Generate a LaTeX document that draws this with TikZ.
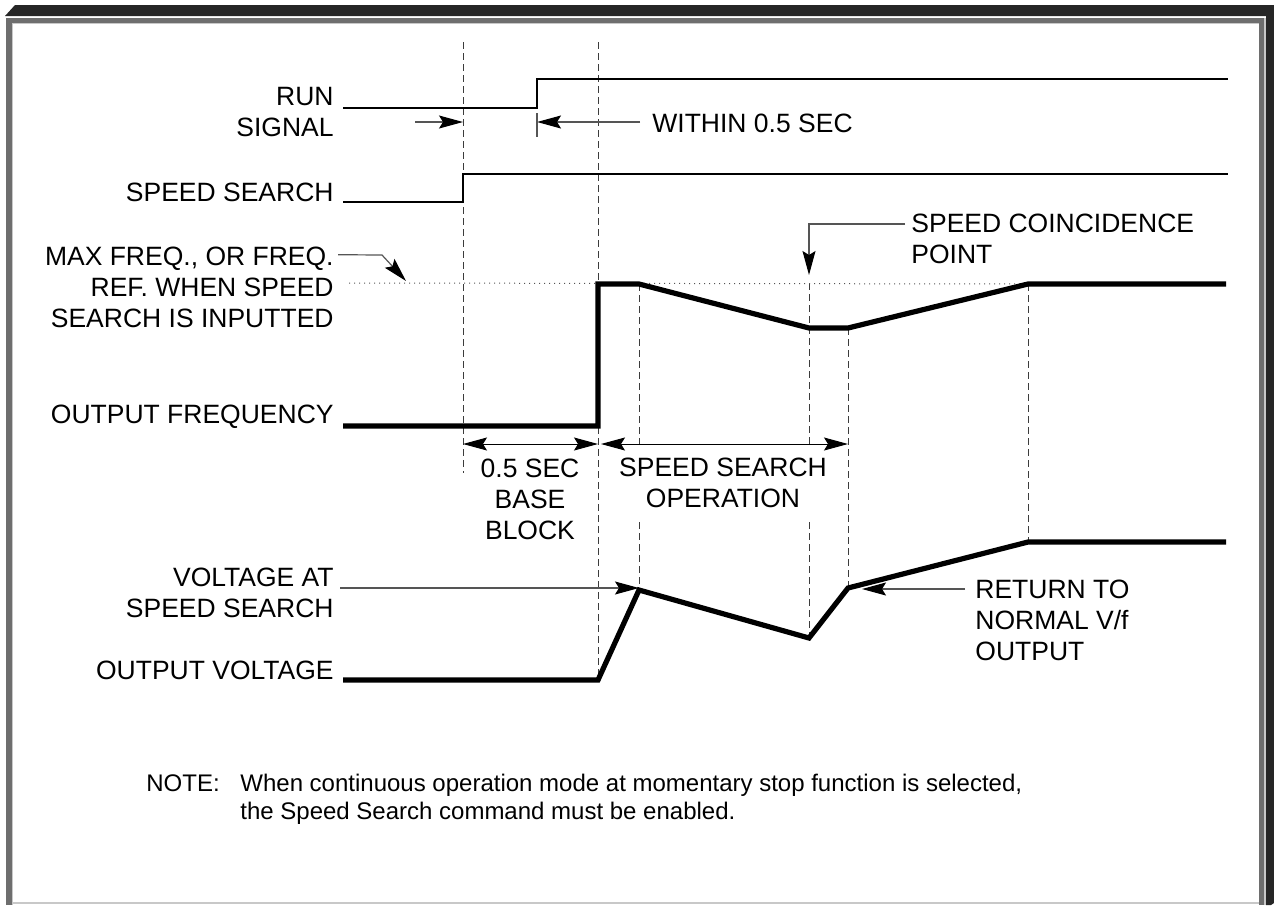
\documentclass[tikz,border=0pt]{standalone}
\usepackage{fontspec}
\setmainfont{Liberation Sans}
\usetikzlibrary{arrows.meta,positioning,calc}
\definecolor{framedark}{RGB}{38,38,38}
\definecolor{framegray}{RGB}{110,110,110}
\definecolor{framelight}{RGB}{200,200,200}
\definecolor{guidec}{RGB}{60,60,60}
\definecolor{leadc}{RGB}{85,85,85}

\begin{document}
\begin{tikzpicture}[
  x=0.5pt, y=-0.5pt,
  font=\fontsize{13.25}{15.5}\selectfont,
  >={Stealth[length=12pt,width=6.5pt,inset=2pt,color=black]},
  lbl/.style={align=right, anchor=east, inner sep=0pt},
  txt/.style={align=center, inner sep=0pt},
  ltxt/.style={align=left, anchor=west, inner sep=0pt},
  sig/.style={line width=1.4pt, line join=miter},
  wave/.style={line width=2.6pt, line join=miter},
  guide/.style={draw=guidec, line width=0.5pt, dash pattern=on 3.5pt off 2pt},
  lead/.style={->, draw=leadc, line width=0.6pt},
  tick/.style={draw=leadc, line width=0.6pt},
  dim/.style={<->, line width=0.5pt}
]
\useasboundingbox (0,0) rectangle (1274,905);

% ---- Frame ----
\fill[framedark] (15,5) -- (1274,5) -- (1274,903) -- (1271,905) -- (1266,905)
  -- (1266,16) -- (5,16) -- cycle;
\fill[framegray] (6,18) rectangle (1264,23);
\fill[framegray] (6,18) rectangle (12,905);
\fill[framegray] (1259,18) rectangle (1264,905);
\draw[framelight, line width=0.6pt] (12.5,905) -- (12.5,23.5) -- (1259,23.5);
\draw[framelight, line width=0.6pt] (1265,18) -- (1265,905);
\draw[framelight, line width=0.8pt] (12,903) -- (1259,903);

% ---- Waveform points ----
\coordinate (r0) at (343,108);  \coordinate (r1) at (537,108);
\coordinate (r2) at (537,79);   \coordinate (r3) at (1228,79);
\coordinate (s0) at (343,202);  \coordinate (s1) at (463,202);
\coordinate (s2) at (463,174);  \coordinate (s3) at (1228,174);
\coordinate (f0) at (343,426);  \coordinate (f1) at (598,426);
\coordinate (f2) at (598,284);  \coordinate (f3) at (639,284);
\coordinate (f4) at (809,328);  \coordinate (f5) at (848,328);
\coordinate (f6) at (1028,284); \coordinate (f7) at (1226,284);
\coordinate (v0) at (343,680);  \coordinate (v1) at (598,680);
\coordinate (v2) at (639,590);  \coordinate (v3) at (809,638);
\coordinate (v4) at (848,588);  \coordinate (v5) at (1028,542);
\coordinate (v6) at (1226,542);
\coordinate (top) at (0,42);
\coordinate (gapa) at (0,447);
\coordinate (gapb) at (0,522);
\coordinate (dy) at (0,444);
\coordinate (cp) at (809,283);

% ---- Labels (left) ----
\node[lbl] (lblrun) at (334,112.5) {RUN\\SIGNAL};
\node[lbl] (lblss) at (334,192) {SPEED SEARCH};
\node[lbl] (lblmax) at (334,287) {MAX FREQ., OR FREQ.\\REF. WHEN SPEED\\SEARCH IS INPUTTED};
\node[lbl] (lblfreq) at (334,417) {OUTPUT FREQUENCY};
\node[lbl] (lblvat) at (334,592.5) {VOLTAGE AT\\SPEED SEARCH};
\node[lbl] (lblvolt) at (334,670) {OUTPUT VOLTAGE};

% ---- Labels (chart) ----
\node[ltxt] (txtwithin) at (652,123) {WITHIN 0.5 SEC};
\node[txt] (txtbb) at (530,499.5) {0.5 SEC\\BASE\\BLOCK};
\node[txt] (txtsso) at (723,483) {SPEED SEARCH\\OPERATION};
\node[ltxt] (txtcoin) at (911,238.5) {SPEED COINCIDENCE\\POINT};
\node[ltxt] (txtret) at (975,620) {RETURN TO\\NORMAL V/f\\OUTPUT};

% ---- Guides ----
\draw[guide] (s1 |- top) -- (s1 |- 0,473);
\draw[guide] (f1 |- top) -- (v1);
\draw[guide] (f3) -- (f3 |- gapa);
\draw[guide] (f3 |- gapb) -- (v2);
\draw[guide] (cp) -- (cp |- gapa);
\draw[guide] (cp |- gapb) -- (v3);
\draw[guide] (f5) -- (v4);
\draw[guide] (f6) -- (v5);
\draw[dotted, draw=leadc, line width=0.5pt] (349,283) -- (f6);

% ---- Signals ----
\draw[sig] (r0) -- (r1) -- (r2) -- (r3);
\draw[sig] (s0) -- (s1) -- (s2) -- (s3);
\draw[wave] (f0) -- (f1) -- (f2) -- (f3) -- (f4) -- (f5) -- (f6) -- (f7);
\draw[wave] (v0) -- (v1) -- (v2) -- (v3) -- (v4) -- (v5) -- (v6);

% ---- Arrows ----
\draw[lead] (415,122) -- (s1 |- 0,122);
\draw[lead] ($(txtwithin.west)+(-12,-1)$) -- (r1 |- 0,122);
\draw[tick] ($(r1)+(0,5)$) -- ($(r1)+(0,29)$);
\draw[lead] ($(lblmax.north east)+(4,8.5)$) -- (382,255) -- (406,281);
\draw[lead] ($(txtcoin.west |- 0,224)+(-6,0)$) -- (cp |- 0,224) -- ($(cp)+(0,-8)$);
\draw[lead] ($(lblvat.east |- v4)+(6,0)$) -- (v2 |- v4);
\draw[lead] ($(txtret.west |- v4)+(-10,1)$) -- ($(v4)+(14,1)$);
\draw[dim] (s1 |- dy) -- (f1 |- dy);
\draw[dim] ($(f1 |- dy)+(3,0)$) -- (f5 |- dy);

% ---- Note ----
\node[ltxt, font=\fontsize{12}{14}\selectfont] (note) at (146,799)
  {\makebox[47pt][l]{NOTE:}When continuous operation mode at momentary stop function is selected,\\
   \hspace*{47pt}the Speed Search command must be enabled.};

\end{tikzpicture}
\end{document}
